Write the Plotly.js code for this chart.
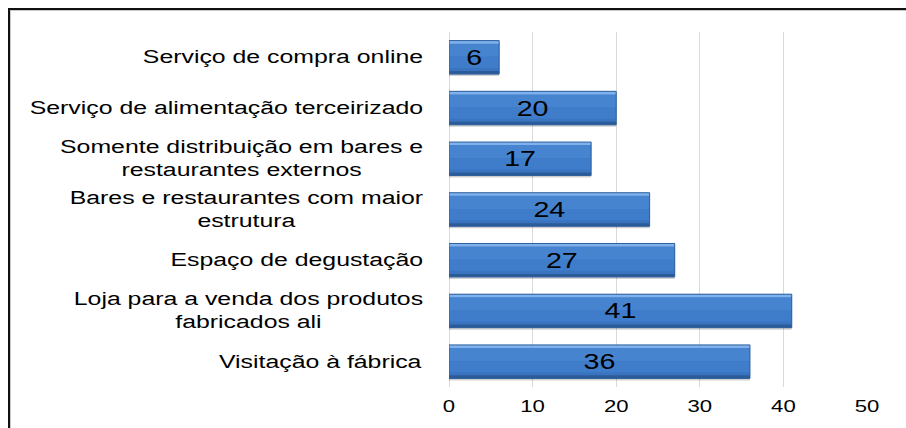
<!DOCTYPE html>
<html>
<head>
<meta charset="utf-8">
<script src="https://cdn.plot.ly/plotly-3.0.1.min.js"></script>
<style>
  html, body { margin: 0; padding: 0; background: #ffffff; }
  #wrap { position: relative; width: 906px; height: 428px; overflow: hidden; }
  #frame { position: absolute; left: 8px; top: 8px; width: 910px; height: 430px;
           border-left: 2px solid #111; border-top: 2px solid #111;
           box-shadow: inset 1px 1px 0 #c8c8c8; }
  #chart { position: absolute; left: 0; top: 0; width: 906px; height: 428px; }
</style>
</head>
<body>
<div id="wrap">
  <div id="frame"></div>
  <div id="chart"></div>
</div>
<script>
const categories = [
  "Serviço de compra online",
  "Serviço de alimentação terceirizado",
  "Somente distribuição em bares e<br>restaurantes externos",
  "Bares e restaurantes com maior<br>estrutura",
  "Espaço de degustação",
  "Loja para a venda dos produtos<br>fabricados ali",
  "Visitação à fábrica"
];
const values = [6, 20, 17, 24, 27, 41, 36];
const xTicks = [0, 10, 20, 30, 40, 50];

const idx = categories.map((c, i) => i);
const W = 0.66;
const FONT = 'Liberation Sans, Arial, sans-serif';

function stripe(color, offset, width, extra) {
  return Object.assign({
    type: 'bar', orientation: 'h', x: values, y: idx,
    width: width, offset: offset,
    marker: { color: color, line: { width: 0 } },
    hoverinfo: 'skip', showlegend: false
  }, extra || {});
}

const traces = [
  stripe('rgba(0,0,0,0.18)', -W / 2 + 0.04, W),
  stripe('#3a74c0', -W / 2, W),
  stripe('#4684d0', -W / 2 + 0.06, 0.26),
  stripe('#3f7cc9', -0.01, 0.22),
  stripe('#7fb2ec', -W / 2, 0.06),
  stripe('#2c5c98', W / 2 - 0.06, 0.06),
  stripe('rgba(0,0,0,0)', -W / 2, W, {
    marker: { color: 'rgba(0,0,0,0)', line: { color: '#2f609e', width: 1 } },
    text: values.map(String),
    textposition: 'inside',
    insidetextanchor: 'middle',
    constraintext: 'none',
    textfont: { family: FONT, size: 22, color: '#000000' },
    cliponaxis: false
  })
];

const annotations = categories.map((c, i) => ({
  xref: 'paper', yref: 'y', x: 0, y: i,
  xanchor: 'right', yanchor: 'middle', xshift: -24,
  text: c, align: 'center', showarrow: false,
  font: { family: FONT, size: 18, color: '#000000' }
}));

const layout = {
  width: 906, height: 428,
  margin: { l: 449, r: 39, t: 32, b: 41, pad: 0 },
  paper_bgcolor: 'rgba(0,0,0,0)',
  plot_bgcolor: 'rgba(0,0,0,0)',
  barmode: 'overlay',
  showlegend: false,
  xaxis: {
    range: [0, 50], tickvals: xTicks, ticktext: xTicks.map(String),
    showgrid: true, gridcolor: '#d9d9d9', gridwidth: 1,
    zeroline: true, zerolinecolor: '#d9d9d9', zerolinewidth: 1,
    showline: false, ticks: 'outside', ticklen: 4, tickcolor: 'rgba(0,0,0,0)',
    tickfont: { family: FONT, size: 17, color: '#000000' },
    fixedrange: true
  },
  yaxis: {
    range: [categories.length - 0.5, -0.5],
    showticklabels: false, showgrid: false, zeroline: false, showline: false,
    ticks: '', fixedrange: true
  },
  annotations: annotations
};

function stretchText(el, factor) {
  const len = el.getComputedTextLength();
  if (len > 0) {
    el.setAttribute('textLength', (len * factor).toFixed(2));
    el.setAttribute('lengthAdjust', 'spacingAndGlyphs');
  }
}

Plotly.newPlot('chart', traces, layout, { displayModeBar: false, staticPlot: true }).then(gd => {
  // the reference lettering is horizontally stretched
  gd.querySelectorAll('.annotation-text').forEach(t => {
    t.style.transformBox = 'fill-box';
    t.style.transformOrigin = '100% 50%';
    t.style.transform = 'scaleX(1.38)';
  });
  gd.querySelectorAll('.xtick text').forEach(t => stretchText(t, 1.3));
  gd.querySelectorAll('text.bartext').forEach(t => stretchText(t, 1.3));
});
</script>
</body>
</html>
